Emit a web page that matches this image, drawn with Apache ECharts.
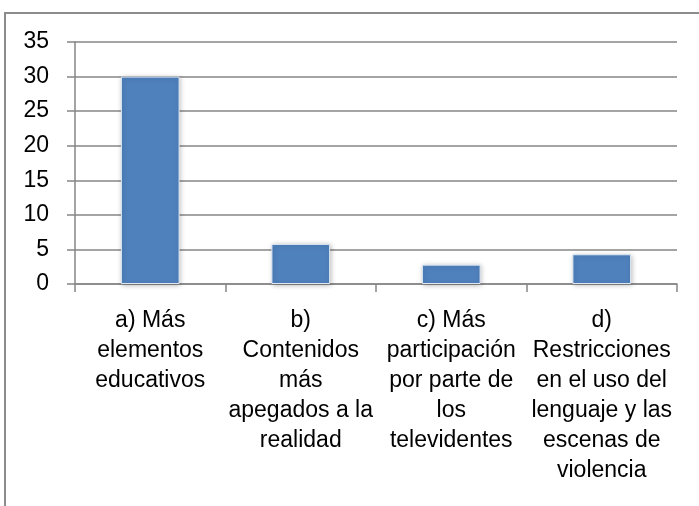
<!DOCTYPE html>
<html>
<head>
<meta charset="utf-8">
<script src="https://cdn.jsdelivr.net/npm/echarts@6/dist/echarts.min.js"></script>
<style>
html,body{margin:0;padding:0;background:#fff;}
#chart{width:699px;height:506px;}
</style>
</head>
<body>
<div id="chart"></div>
<script>
var categories = [
  "a) Más\nelementos\neducativos",
  "b)\nContenidos\nmás\napegados a la\nrealidad",
  "c) Más\nparticipación\npor parte de\nlos\ntelevidentes",
  "d)\nRestricciones\nen el uso del\nlenguaje y las\nescenas de\nviolencia"
];
var values = [30, 5.8, 2.8, 4.3];
var yTicks = { min: 0, max: 35, interval: 5 };

var FONT = "Liberation Sans";
var chart = echarts.init(document.getElementById('chart'), null, { renderer: 'canvas' });
chart.setOption({
  animation: false,
  backgroundColor: '#ffffff',
  graphic: [{
    type: 'rect',
    shape: { x: 5, y: 13, width: 720, height: 620 },
    style: { fill: 'none', stroke: '#8c8c8c', lineWidth: 2 },
    silent: true
  }],
  grid: { left: 75, right: 22, top: 42, bottom: 222, containLabel: false },
  xAxis: {
    type: 'category',
    data: categories,
    boundaryGap: true,
    axisLine: { show: true, lineStyle: { color: '#868686', width: 1.5 } },
    axisTick: { show: true, length: 8, inside: false, alignWithLabel: false, lineStyle: { color: '#868686', width: 1.5 } },
    axisLabel: {
      interval: 0,
      margin: 22,
      color: '#000',
      fontFamily: FONT,
      fontSize: 23,
      lineHeight: 30,
      align: 'center',
      verticalAlign: 'top'
    },
    splitLine: { show: false }
  },
  yAxis: {
    type: 'value',
    min: yTicks.min,
    max: yTicks.max,
    interval: yTicks.interval,
    axisLine: { show: true, lineStyle: { color: '#868686', width: 1.5 } },
    axisTick: { show: true, length: 8, inside: false, lineStyle: { color: '#868686', width: 1.5 } },
    axisLabel: { margin: 26, color: '#000', fontFamily: FONT, fontSize: 23 },
    splitLine: { show: true, lineStyle: { color: '#868686', width: 1.5 } }
  },
  series: [{
    type: 'bar',
    data: values,
    barWidth: '39%',
    itemStyle: {
      color: '#4F81BD',
      borderColor: '#dfe8f3',
      borderWidth: 1,
      shadowBlur: 5,
      shadowColor: 'rgba(0,0,0,0.25)',
      shadowOffsetX: 1,
      shadowOffsetY: 1
    },
    label: { show: false }
  }]
});
</script>
</body>
</html>
